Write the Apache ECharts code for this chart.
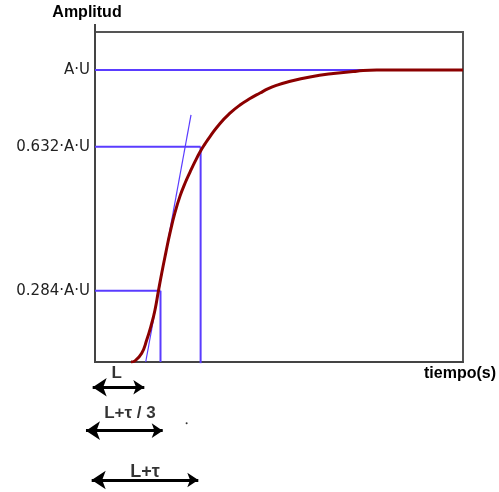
<!DOCTYPE html>
<html>
<head>
<meta charset="utf-8">
<script src="https://cdn.jsdelivr.net/npm/echarts@6/dist/echarts.min.js"></script>
<style>html,body{margin:0;padding:0;background:#fff;}#c{width:499px;height:492px;}</style>
</head>
<body>
<div id="c"></div>
<script>
// Step response curve (time units 0..100, amplitude normalised so A·U = 1)
const curveX = [9.78, 10.87, 12.69, 14.05, 15.41, 16.30, 17.20, 18.13, 19.21, 20.38, 21.74, 23.10, 24.46, 25.82, 27.17, 28.53, 29.89, 31.25, 33.97, 36.68, 39.40, 42.12, 44.84, 47.09, 49.46, 52.09, 58.42, 64.76, 71.11, 76.55, 100];
const curveY = [0, 0.004, 0.030, 0.075, 0.132, 0.178, 0.241, 0.304, 0.372, 0.442, 0.512, 0.568, 0.612, 0.650, 0.686, 0.719, 0.747, 0.772, 0.817, 0.852, 0.880, 0.902, 0.921, 0.936, 0.948, 0.958, 0.976, 0.988, 0.996, 1, 1];

// Reference levels (as drawn) and their labels
const levelValues = [0.244, 0.737, 1];
const levelLabels = ['0.284·A·U', '0.632·A·U', 'A·U'];
const levelEndX = [17.8, 28.7, 100];

// Vertical guide lines
const vLineX = [17.8, 28.7];
const vLineTop = [0.244, 0.737];
const vLineBottom = [0, -0.004];

// Tangent line
const tangentX = [13.78, 26.09];
const tangentY = [0, 0.846];

// Double arrows below the axis (tip to tip)
const arrowStartX = [-0.63, -2.45, -0.90];
const arrowEndX = [13.40, 18.40, 28.07];
const arrowY = [-0.0866, -0.235, -0.404];

// Annotation texts
const annotText = ['L', 'L+τ / 3', 'L+τ'];
const annotX = [5.9, 9.51, 13.59];
const annotY = [-0.0387, -0.176, -0.376];
const annotSize = [17, 17, 18];

// stray dot
const dotX = [24.9];
const dotY = [-0.21];

const BLUE = '#5a3cff';
const RED = '#8b0000';

const series = [];
// level lines
levelValues.forEach((v, i) => {
  series.push({
    type: 'line', silent: true, symbol: 'none', z: 2,
    data: [[0, v], [levelEndX[i], v]],
    lineStyle: { color: BLUE, width: 2 }
  });
});
vLineX.forEach((x, i) => {
  series.push({
    type: 'line', silent: true, symbol: 'none', z: 2, clip: false,
    data: [[x, vLineTop[i]], [x, vLineBottom[i]]],
    lineStyle: { color: BLUE, width: 2 }
  });
});
series.push({
  type: 'line', silent: true, symbol: 'none', z: 2,
  data: tangentX.map((x, i) => [x, tangentY[i]]),
  lineStyle: { color: BLUE, width: 1.2 }
});
series.push({
  type: 'line', silent: true, symbol: 'none', z: 5, smooth: 0.5,
  data: curveX.map((x, i) => [x, curveY[i]]),
  lineStyle: { color: RED, width: 3 }
});
// small axis extension above the frame
series.push({
  type: 'line', silent: true, symbol: 'none', z: 3, clip: false,
  data: [[0, 1.13], [0, 1.157]],
  lineStyle: { color: '#444', width: 2 }
});
series.push({
  type: 'lines', coordinateSystem: 'cartesian2d', silent: true, clip: false, z: 6,
  symbol: ['arrow', 'arrow'], symbolSize: [14, 11],
  lineStyle: { color: '#000', width: 3, opacity: 1, curveness: 0 },
  data: arrowY.map((y, i) => ({ coords: [[arrowStartX[i], y], [arrowEndX[i], y]] }))
});
series.push({
  type: 'scatter', silent: true, clip: false, z: 6, symbolSize: 0,
  data: annotX.map((x, i) => ({ value: [x, annotY[i]], name: annotText[i],
    label: { fontSize: annotSize[i] } })),
  label: {
    show: true, position: 'inside', formatter: p => p.name,
    color: '#000', fontWeight: 'bold', fontFamily: 'Liberation Sans, Arial, sans-serif'
  }
});
series.push({
  type: 'scatter', silent: true, clip: false, z: 6, symbolSize: 2,
  itemStyle: { color: '#000' },
  data: dotX.map((x, i) => [x, dotY[i]])
});

const chart = echarts.init(document.getElementById('c'), null, { renderer: 'canvas' });
chart.setOption({
  animation: false,
  backgroundColor: '#fff',
  grid: { left: 95, right: 36, top: 32, bottom: 130, show: true, borderColor: '#555', borderWidth: 2, backgroundColor: 'transparent' },
  xAxis: {
    type: 'value', min: 0, max: 100,
    axisLine: { show: true, onZero: false, lineStyle: { color: '#444', width: 2 } },
    axisTick: { show: false }, axisLabel: { show: false }, splitLine: { show: false }
  },
  yAxis: {
    type: 'value', min: 0, max: 1.13,
    axisLine: { show: true, lineStyle: { color: '#444', width: 2 } },
    axisTick: { show: false }, splitLine: { show: false },
    axisLabel: {
      customValues: levelValues,
      margin: 5,
      color: '#222',
      fontSize: 15,
      fontFamily: 'DejaVu Sans, sans-serif',
      formatter: v => { const i = levelValues.indexOf(v); return i >= 0 ? levelLabels[i] : ''; }
    }
  },
  graphic: [
    { type: 'text', x: 87, y: 13, style: { text: 'Amplitud', fontSize: 16, fontWeight: 'bold', fontFamily: 'Liberation Sans, Arial, sans-serif', fill: '#000', align: 'center', verticalAlign: 'middle' } },
    { type: 'text', x: 460, y: 374, style: { text: 'tiempo(s)', fontSize: 16, fontWeight: 'bold', fontFamily: 'Liberation Sans, Arial, sans-serif', fill: '#000', align: 'center', verticalAlign: 'middle' } }
  ],
  series: series
});
</script>
</body>
</html>
